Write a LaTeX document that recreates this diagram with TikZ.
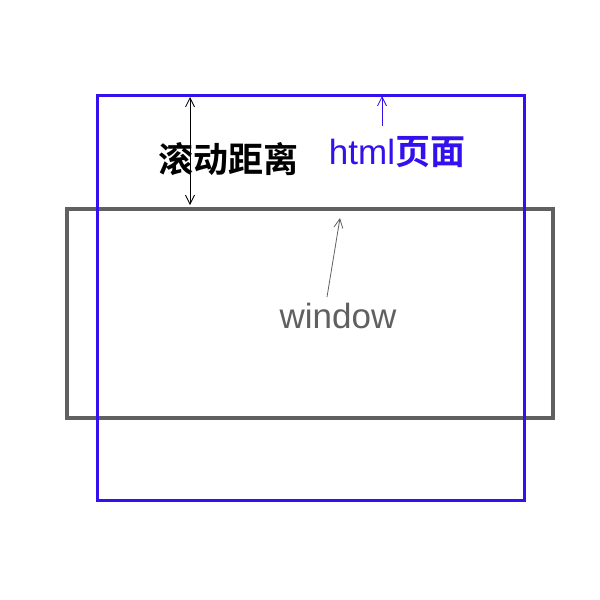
\documentclass[tikz,border=0pt]{standalone}
\usepackage{fontspec}
\usetikzlibrary{arrows.meta}
\setmainfont{Liberation Sans}
\newfontfamily\cjk{Noto Sans CJK SC}[BoldFont={Noto Sans CJK SC Bold}]
\definecolor{pageblue}{HTML}{3311EE}
\definecolor{wingray}{HTML}{606060}
\tikzstyle{pagebox} = [draw=pageblue, line width=3pt]
\tikzstyle{winbox} = [draw=wingray, line width=4pt]
\tikzstyle{label} = [inner sep=0pt, anchor=center]
\tikzstyle{pointer} = [line width=0.8pt, -{Straight Barb[length=9pt, width=9pt]}]
\tikzstyle{span} = [line width=0.8pt, {Straight Barb[length=9pt, width=9pt]}-{Straight Barb[length=9pt, width=9pt]}]

\begin{document}
\begin{tikzpicture}[x=1pt, y=-1pt]
      \useasboundingbox (0,0) rectangle (600,600);
      % window and page
      \draw[winbox] (67,209) rectangle (553,418);
      \draw[pagebox] (97,95) rectangle (524,500);
      % texts
      \node[label] (scroll) at (228,159) {\cjk\bfseries\fontsize{35}{38}\selectfont 滚动距离};
      \node[label, text=pageblue] (page) at (397,152) {\fontsize{35}{38}\selectfont html\cjk\bfseries 页面};
      \node[label, text=wingray] (win) at (338,316) {\fontsize{35}{38}\selectfont window};
      \coordinate (s1) at (190,97);
      \coordinate (s2) at (190,205);
      \coordinate (p1) at (382,126);
      \coordinate (p2) at (382,96);
      \coordinate (w1) at (327,297);
      \coordinate (w2) at (340,218);
      \draw[span] (s1) -- (s2);
      \draw[pointer, pageblue] (p1) -- (p2);
      \draw[pointer, wingray] (w1) -- (w2);
    \end{tikzpicture}
\end{document}
